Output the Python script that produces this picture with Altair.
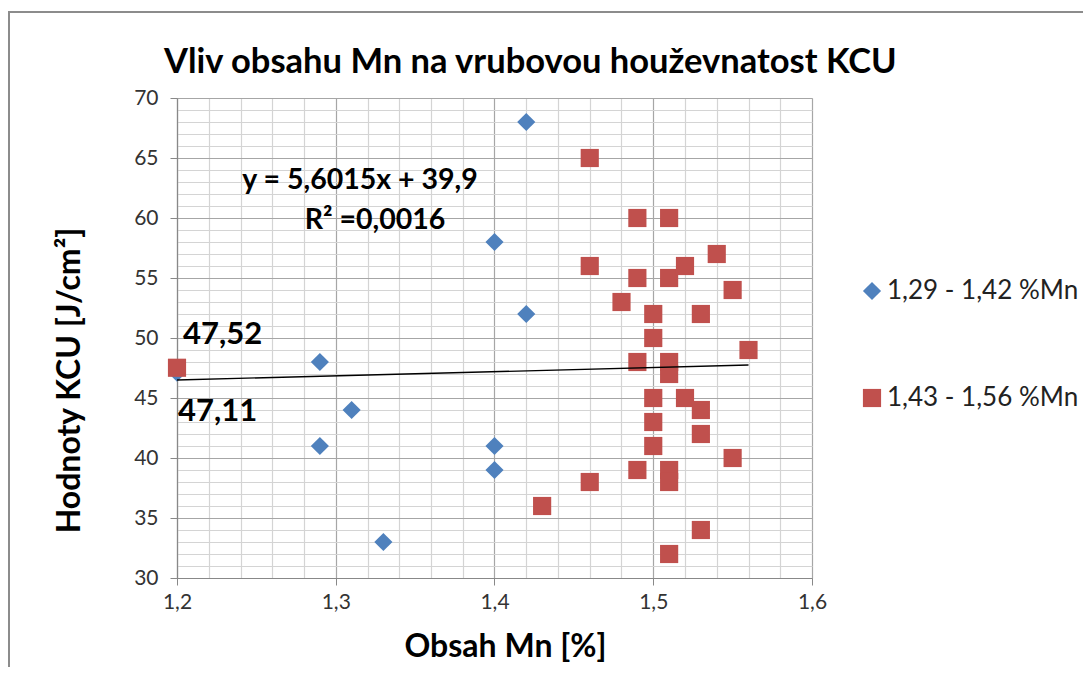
import altair as alt
import pandas as pd

series_names = ["1,29 - 1,42 %Mn", "1,43 - 1,56 %Mn"]
series_colors = ["#4F81BD", "#C0504D"]

blue_x = [1.20, 1.42, 1.40, 1.42, 1.29, 1.31, 1.29, 1.40, 1.40, 1.33]
blue_y = [47.11, 68, 58, 52, 48, 44, 41, 41, 39, 33]

red_x = [1.20, 1.46, 1.49, 1.51, 1.46, 1.49, 1.51, 1.52, 1.54, 1.55, 1.48,
         1.50, 1.53, 1.50, 1.56, 1.49, 1.51, 1.51, 1.52, 1.50, 1.53, 1.50,
         1.53, 1.50, 1.55, 1.49, 1.51, 1.51, 1.46, 1.43, 1.53, 1.51]
red_y = [47.52, 65, 60, 60, 56, 55, 55, 56, 57, 54, 53,
         52, 52, 50, 49, 48, 48, 47, 45, 45, 44, 43,
         42, 41, 40, 39, 39, 38, 38, 36, 34, 32]

trend_x = [1.20, 1.56]
trend_y = [46.5, 47.75]

eq_text = ["y = 5,6015x + 39,9", "R² =0,0016"]
eq_x = [1.3153, 1.3247]
eq_y = [63.17, 59.83]

lab_text = ["47,52", "47,11"]
lab_x = [1.20, 1.20]
lab_y = [47.52, 47.11]

x_ticks = [round(1.2 + 0.02 * i, 2) for i in range(21)]
y_ticks = list(range(30, 71))

FONT = "Lato"

pts = pd.DataFrame({
    "x": blue_x + red_x,
    "y": blue_y + red_y,
    "series": [series_names[0]] * len(blue_x) + [series_names[1]] * len(red_x),
})
trend = pd.DataFrame({"x": trend_x, "y": trend_y})
eq = pd.DataFrame({"x": eq_x, "y": eq_y, "t": eq_text})
labs = pd.DataFrame({"x": lab_x, "y": lab_y, "t": lab_text})

W, H = 635, 480

x_major = "abs(datum.value*10 - round(datum.value*10)) < 0.001"
y_major = "datum.value % 5 === 0"

xscale = alt.Scale(domain=[1.2, 1.6], nice=False, zero=False)
yscale = alt.Scale(domain=[30, 70], nice=False, zero=False)

x_axis = alt.Axis(
    values=x_ticks, tickCount=200,
    labelExpr=f"{x_major} ? replace(format(datum.value, '.1f'), '.', ',') : ''",
    grid=True,
    gridColor={"condition": {"test": x_major, "value": "#a6a6a6"}, "value": "#d4d4d4"},
    gridWidth=1.2,
    tickOpacity={"condition": {"test": x_major, "value": 1}, "value": 0},
    tickSize=7, tickColor="#888888", domainColor="#888888", domainWidth=1.2,
    labelFont=FONT, labelFontSize=21, labelColor="#333333", labelPadding=6,
    labelOverlap=False, labelFlush=False,
    title="Obsah Mn [%]", titleFont=FONT, titleFontSize=32, titleFontWeight="bold",
    titleColor="#000000", titleX=328, titleY=68, titleBaseline="middle",
    titleAlign="center", titleAnchor=None,
)
y_axis = alt.Axis(
    values=y_ticks, tickCount=200,
    labelExpr=f"{y_major} ? format(datum.value, 'd') : ''",
    grid=True,
    gridColor={"condition": {"test": y_major, "value": "#a6a6a6"}, "value": "#d4d4d4"},
    gridWidth=1.2,
    tickOpacity={"condition": {"test": y_major, "value": 1}, "value": 0},
    tickSize=7, tickColor="#888888", domainColor="#888888", domainWidth=1.2,
    labelFont=FONT, labelFontSize=21, labelColor="#333333", labelPadding=12,
    labelOverlap=False, labelFlush=False,
    title="Hodnoty KCU [J/cm²]", titleFont=FONT, titleFontSize=32, titleFontWeight="bold",
    titleColor="#000000", titleX=-108, titleY=282, titleBaseline="middle",
    titleAlign="center", titleAngle=270,
)

legend = alt.Legend(
    title=None, orient="none", legendX=682, legendY=180,
    labelFont=FONT, labelFontSize=26, labelColor="#222222", labelLimit=0,
    rowPadding=81, labelOffset=2, symbolSize=330, symbolStrokeWidth=0,
)

frame = alt.Chart(pd.DataFrame({"k": [0]})).mark_rect(
    fill="transparent", stroke="#8c8c8c", strokeWidth=2, clip=False
).encode(
    x=alt.value(-168), x2=alt.value(W + 300),
    y=alt.value(-86), y2=alt.value(H + 120),
)

points = alt.Chart(pts).mark_point(filled=True, opacity=1, size=330, clip=False).encode(
    x=alt.X("x:Q", scale=xscale, axis=x_axis),
    y=alt.Y("y:Q", scale=yscale, axis=y_axis),
    color=alt.Color("series:N", scale=alt.Scale(domain=series_names, range=series_colors), legend=legend),
    shape=alt.Shape("series:N", scale=alt.Scale(domain=series_names, range=["diamond", "square"]), legend=legend),
)

line = alt.Chart(trend).mark_line(color="#000000", strokeWidth=1.3, clip=False).encode(
    x="x:Q", y="y:Q"
)

eq_text_layer = alt.Chart(eq).mark_text(
    font=FONT, fontSize=28.5, fontWeight="bold", color="#000000", align="center", baseline="middle"
).encode(x="x:Q", y="y:Q", text="t:N")

lab_top = alt.Chart(labs).transform_filter(alt.datum.t == lab_text[0]).mark_text(
    font=FONT, fontSize=31, fontWeight="bold", color="#000000", align="left", baseline="middle",
    dx=6, dy=-33,
).encode(x="x:Q", y="y:Q", text="t:N")

lab_bot = alt.Chart(labs).transform_filter(alt.datum.t == lab_text[1]).mark_text(
    font=FONT, fontSize=31, fontWeight="bold", color="#000000", align="left", baseline="middle",
    dx=1, dy=39,
).encode(x="x:Q", y="y:Q", text="t:N")

chart = alt.layer(frame, points, line, eq_text_layer, lab_top, lab_bot).properties(
    width=W, height=H,
    autosize=alt.AutoSizeParams(type="none"),
    padding={"left": 169, "top": 90, "right": 271, "bottom": 89},
    title=alt.Title(
        "Vliv obsahu Mn na vrubovou houževnatost KCU",
        font=FONT, fontSize=34.5, fontWeight="bold", color="#000000",
        anchor="start", dx=156, offset=0, dy=96, baseline="alphabetic",
    ),
).configure_view(stroke=None).configure(background="white")

chart.save("out.html", embed_options={"renderer": "svg", "actions": False})
